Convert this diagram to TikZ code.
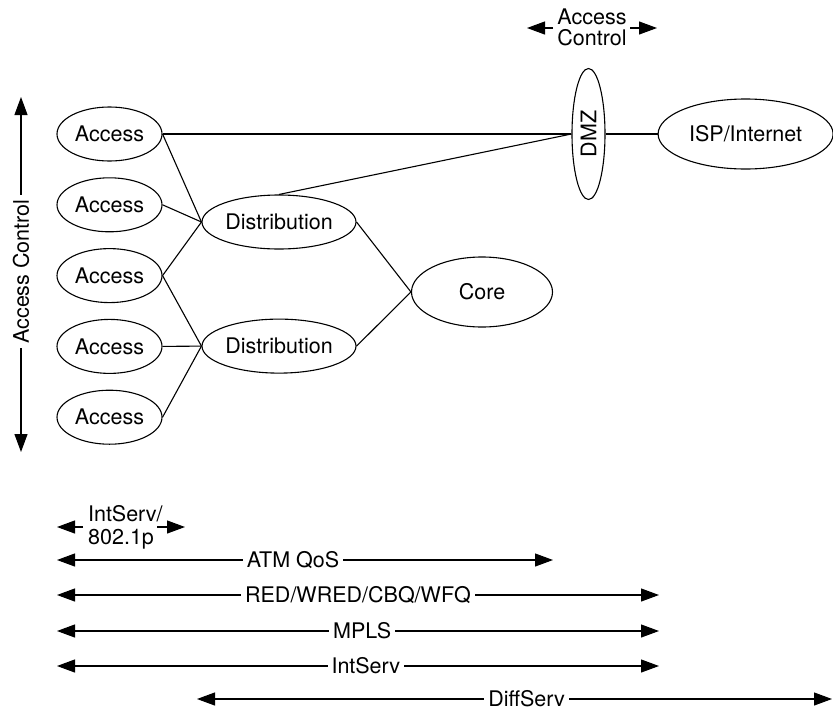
\documentclass[tikz,border=0pt]{standalone}
\usepackage{fontspec}
\setmainfont{TeX Gyre Heros}
\usetikzlibrary{positioning,arrows.meta,shapes.geometric}

\begin{document}
\begin{tikzpicture}[x=1pt, y=-1pt,
  every node/.style={font=\fontsize{21.5}{23}\selectfont},
  site/.style={draw, ellipse, inner sep=0pt, line width=1.1pt},
  acc/.style={site, minimum width=105pt, minimum height=54pt},
  dist/.style={site, minimum width=154pt, minimum height=54pt},
  link/.style={line width=1.1pt},
  arr/.style={-{Triangle[length=18pt, width=13pt]}, line width=1.1pt},
  span/.style={{Triangle[length=18pt, width=13pt]}-{Triangle[length=18pt, width=13pt]}, line width=1.1pt},
  lbl/.style={fill=white, inner sep=4pt}]
\useasboundingbox (0,0) rectangle (833,710);
\node[acc] (a1) at (109.5,134) {Access};
\node[acc, below=15.7pt of a1] (a2) {Access};
\node[acc, below=15.7pt of a2] (a3) {Access};
\node[acc, below=15.7pt of a3] (a4) {Access};
\node[acc, below=15.7pt of a4] (a5) {Access};
\node[dist] (d1) at (279,222) {Distribution};
\node[dist, below=69pt of d1] (d2) {Distribution};
\node[site, minimum width=141pt, minimum height=70pt] (core) at (482,292) {Core};
\node[site, minimum width=33pt, minimum height=131pt] (dmz) at (588.5,134) {\rotatebox{90}{DMZ}};
\node[site, minimum width=175pt, minimum height=70pt, right=52pt of dmz] (isp) {ISP/Internet};
\draw[link] (a1.east) -- (dmz.west);
\draw[link] (a1.east) -- (d1.west);
\draw[link] (a2.east) -- (d1.west);
\draw[link] (a3.east) -- (d1.west);
\draw[link] (a3.east) -- (d2.west);
\draw[link] (a4.east) -- (d2.west);
\draw[link] (a5.east) -- (d2.west);
\draw[link] (d1.north) -- (dmz.west);
\draw[link] (d1.east) -- (core.west);
\draw[link] (d2.east) -- (core.west);
\draw[link] (dmz.east) -- (isp.west);
% access control, top and left
\node[align=center, font=\fontsize{21.5}{21}\selectfont] (actop) at (592,27) {Access\\Control};
\coordinate (actopL) at (553,28); \coordinate (actopLt) at (527,28);
\coordinate (actopR) at (630,28); \coordinate (actopRt) at (657,28);
\draw[arr] (actopL) -- (actopLt);
\draw[arr] (actopR) -- (actopRt);
\coordinate (acT) at (21,97); \coordinate (acB) at (21,452);
\draw[span] (acT) -- node[lbl, rotate=90, pos=.4915] (acleft) {Access Control} (acB);
% QoS ranges
\node[align=left, anchor=west, inner sep=2pt] (isp1) at (86,527) {IntServ/\\802.1p};
\coordinate (isp1L) at (83,527); \coordinate (isp1Lt) at (57,527);
\coordinate (isp1R) at (157,527); \coordinate (isp1Rt) at (185,527);
\draw[arr] (isp1L) -- (isp1Lt);
\draw[arr] (isp1R) -- (isp1Rt);
\coordinate (atmL) at (57,560); \coordinate (atmR) at (553,560);
\draw[span] (atmL) -- node[lbl, pos=.476] (atm) {ATM QoS} (atmR);
\coordinate (redL) at (57,595); \coordinate (redR) at (659,595);
\draw[span] (redL) -- node[lbl, pos=.5] (red) {RED/WRED/CBQ/WFQ} (redR);
\coordinate (mplsL) at (57,631); \coordinate (mplsR) at (659,631);
\draw[span] (mplsL) -- node[lbl, pos=.507] (mpls) {MPLS} (mplsR);
\coordinate (intL) at (57,666); \coordinate (intR) at (659,666);
\draw[span] (intL) -- node[lbl, pos=.513] (int) {IntServ} (intR);
\coordinate (diffL) at (197,699) ; \coordinate (diffR) at (832,699);
\draw[span] (diffL) -- node[lbl, pos=.519, inner ysep=2pt] (diff) {DiffServ} (diffR);
\end{tikzpicture}
\end{document}
